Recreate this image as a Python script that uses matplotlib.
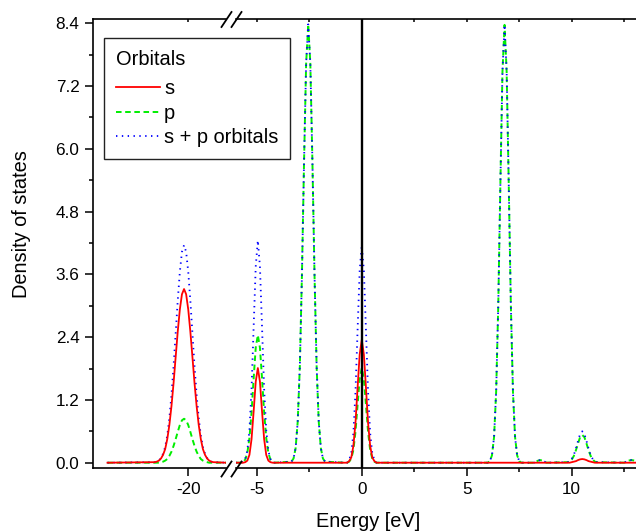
#!/usr/bin/env python3
"""Density of states of s and p orbitals on a broken energy axis."""

import matplotlib.pyplot as plt
from matplotlib.lines import Line2D
from matplotlib.ticker import FixedLocator, FormatStrFormatter, MultipleLocator

plt.rcParams["font.family"] = ["Liberation Sans", "DejaVu Sans"]
plt.rcParams["lines.scale_dashes"] = False
plt.rcParams["axes.unicode_minus"] = False

# low-energy part (left of the axis break)
energy_low = [
    -23.85,
    -21.6, -21.5, -21.4, -21.3, -21.2, -21.1, -21.0, -20.9, -20.8, -20.7,
    -20.6, -20.5, -20.4, -20.3, -20.2, -20.1, -20.0, -19.9, -19.8, -19.7,
    -19.6, -19.5, -19.4, -19.3, -19.2, -19.1, -19.0, -18.9, -18.8,
    -18.2,
]
s_low = [
    0.0,
    0.01, 0.02, 0.04, 0.08, 0.15, 0.26, 0.45, 0.72, 1.08, 1.52,
    2.02, 2.51, 2.93, 3.22, 3.32, 3.22, 2.93, 2.51, 2.02, 1.52,
    1.08, 0.72, 0.45, 0.26, 0.15, 0.08, 0.04, 0.02, 0.01,
    0.0,
]
p_low = [
    0.0,
    0.00, 0.00, 0.00, 0.01, 0.02, 0.04, 0.07, 0.13, 0.21, 0.32,
    0.45, 0.59, 0.72, 0.81, 0.84, 0.81, 0.72, 0.59, 0.45, 0.32,
    0.21, 0.13, 0.07, 0.04, 0.02, 0.01, 0.00, 0.00, 0.00,
    0.0,
]
sp_low = [
    0.0,
    0.01, 0.02, 0.04, 0.09, 0.17, 0.30, 0.52, 0.85, 1.29, 1.84,
    2.47, 3.10, 3.65, 4.03, 4.16, 4.03, 3.65, 3.10, 2.47, 1.84,
    1.29, 0.85, 0.52, 0.30, 0.17, 0.09, 0.04, 0.02, 0.01,
    0.0,
]

# high-energy part (right of the axis break)
energy_high = [
    -6.0,
    -5.75, -5.65, -5.55, -5.45, -5.35, -5.25, -5.15, -5.05, -4.95,
    -4.85, -4.75, -4.65, -4.55, -4.45, -4.35, -4.25, -4.15,
    -3.35, -3.25, -3.15, -3.05, -2.95, -2.85, -2.75, -2.65, -2.55,
    -2.45, -2.35, -2.25, -2.15, -2.05, -1.95, -1.85, -1.75,
    -0.8, -0.7, -0.6, -0.5, -0.4, -0.3, -0.2, -0.1, 0.0,
    0.1, 0.2, 0.3, 0.4, 0.5, 0.6, 0.7, 0.8,
    6.0, 6.1, 6.2, 6.3, 6.4, 6.5, 6.6, 6.7, 6.8,
    6.9, 7.0, 7.1, 7.2, 7.3, 7.4, 7.5, 7.6,
    8.2, 8.4, 8.5, 8.6, 8.8,
    9.8, 9.9, 10.0, 10.1, 10.2, 10.3, 10.4, 10.5,
    10.6, 10.7, 10.8, 10.9, 11.0, 11.1, 11.2,
    12.5, 12.7, 12.85, 13.0, 13.1,
]
s_high = [
    0.0,
    0.00, 0.00, 0.01, 0.04, 0.15, 0.45, 0.98, 1.55, 1.81,
    1.55, 0.98, 0.45, 0.15, 0.04, 0.01, 0.00, 0.00,
    0.00, 0.00, 0.00, 0.00, 0.00, 0.00, 0.00, 0.00, 0.00,
    0.00, 0.00, 0.00, 0.00, 0.00, 0.00, 0.00, 0.00,
    0.00, 0.00, 0.03, 0.10, 0.32, 0.76, 1.43, 2.07, 2.35,
    2.07, 1.43, 0.76, 0.32, 0.10, 0.03, 0.00, 0.00,
    0.00, 0.00, 0.00, 0.00, 0.00, 0.00, 0.00, 0.00, 0.00,
    0.00, 0.00, 0.00, 0.00, 0.00, 0.00, 0.00, 0.00,
    0.00, 0.00, 0.00, 0.00, 0.00,
    0.00, 0.00, 0.01, 0.02, 0.03, 0.05, 0.064, 0.07,
    0.064, 0.05, 0.03, 0.02, 0.01, 0.00, 0.00,
    0.00, 0.00, 0.00, 0.00, 0.00,
]
p_high = [
    0.0,
    0.00, 0.01, 0.06, 0.19, 0.47, 0.96, 1.61, 2.20, 2.44,
    2.20, 1.61, 0.96, 0.47, 0.19, 0.06, 0.01, 0.00,
    0.02, 0.08, 0.28, 0.79, 1.84, 3.58, 5.74, 7.63, 8.38,
    7.63, 5.74, 3.58, 1.84, 0.79, 0.28, 0.08, 0.02,
    0.00, 0.00, 0.02, 0.08, 0.24, 0.59, 1.10, 1.60, 1.81,
    1.60, 1.10, 0.59, 0.24, 0.08, 0.02, 0.00, 0.00,
    0.00, 0.03, 0.14, 0.49, 1.36, 3.01, 5.31, 7.47, 8.37,
    7.47, 5.31, 3.01, 1.36, 0.49, 0.14, 0.03, 0.00,
    0.00, 0.04, 0.05, 0.04, 0.00,
    0.01, 0.02, 0.06, 0.13, 0.24, 0.37, 0.49, 0.53,
    0.49, 0.37, 0.24, 0.13, 0.06, 0.02, 0.01,
    0.00, 0.04, 0.05, 0.04, 0.03,
]
sp_high = [
    0.0,
    0.00, 0.01, 0.07, 0.23, 0.62, 1.41, 2.59, 3.75, 4.25,
    3.75, 2.59, 1.41, 0.62, 0.23, 0.07, 0.01, 0.00,
    0.02, 0.08, 0.28, 0.79, 1.84, 3.58, 5.74, 7.63, 8.38,
    7.63, 5.74, 3.58, 1.84, 0.79, 0.28, 0.08, 0.02,
    0.00, 0.00, 0.05, 0.18, 0.56, 1.35, 2.53, 3.67, 4.16,
    3.67, 2.53, 1.35, 0.56, 0.18, 0.05, 0.00, 0.00,
    0.00, 0.03, 0.14, 0.49, 1.36, 3.01, 5.31, 7.47, 8.37,
    7.47, 5.31, 3.01, 1.36, 0.49, 0.14, 0.03, 0.00,
    0.00, 0.04, 0.05, 0.04, 0.00,
    0.01, 0.02, 0.07, 0.15, 0.27, 0.42, 0.55, 0.60,
    0.55, 0.42, 0.27, 0.15, 0.07, 0.02, 0.01,
    0.00, 0.04, 0.05, 0.04, 0.03,
]

labels = ["s", "p", "s + p orbitals"]
y_ticks = [0.0, 1.2, 2.4, 3.6, 4.8, 6.0, 7.2, 8.4]
x_ticks_low = [-20]
x_ticks_high = [-5, 0, 5, 10]
x_minor_high = [-2.5, 2.5, 7.5, 12.5]

W, H = 636, 531


def fx(px):
    return px / W


def fy(py):
    return (H - py) / H


fig = plt.figure(figsize=(W / 100, H / 100), dpi=100)
bottom, top = fy(468.3), fy(18.6)
ax_lo = fig.add_axes([fx(93), bottom, fx(226) - fx(93), top - bottom])
ax_hi = fig.add_axes([fx(236), bottom, 1.0 - fx(236), top - bottom])

styles = [
    dict(color="#ff0000", linestyle="-", linewidth=1.3, zorder=3),
    dict(color="#00ee00", linestyle=(0, (4.0, 2.6)), linewidth=1.4, zorder=1),
    dict(color="#0000ff", linestyle=(0, (1.0, 3.2)), linewidth=1.3, zorder=2),
]

handles = []
for ax, e, series in [
    (ax_lo, energy_low, [s_low, p_low, sp_low]),
    (ax_hi, energy_high, [s_high, p_high, sp_high]),
]:
    hs = []
    for vals, label, st in zip(series, labels, styles):
        (h,) = ax.plot(e, vals, label=label, **st)
        hs.append(h)
    handles = hs
    ax.set_ylim(-0.107, 8.49)
    ax.tick_params(axis="both", which="major", direction="out", length=5.8,
                   width=1.1, labelsize=12.3, pad=4)
    ax.tick_params(axis="both", which="minor", direction="out", length=3.0,
                   width=1.1)
    for sp in ax.spines.values():
        sp.set_linewidth(1.2)

ax_lo.set_xlim(-24.54, -18.2)
ax_hi.set_xlim(-5.99, 13.06)

ax_lo.xaxis.set_major_locator(FixedLocator(x_ticks_low))
ax_hi.xaxis.set_major_locator(FixedLocator(x_ticks_high))
ax_hi.xaxis.set_minor_locator(FixedLocator(x_minor_high))
ax_lo.xaxis.set_minor_locator(FixedLocator([]))

ax_lo.yaxis.set_major_locator(FixedLocator(y_ticks))
ax_lo.yaxis.set_minor_locator(MultipleLocator(0.6))
ax_lo.yaxis.set_major_formatter(FormatStrFormatter("%.1f"))

ax_lo.spines["right"].set_visible(False)
ax_hi.spines["left"].set_visible(False)
ax_hi.spines["right"].set_visible(False)
ax_hi.tick_params(axis="y", which="both", left=False, labelleft=False)

for ax in (ax_lo, ax_hi):
    ax.tick_params(axis="x", which="both", top=True)
    for t in ax.xaxis.get_major_ticks() + ax.xaxis.get_minor_ticks():
        t.tick2line.set_markersize(2)
        t.tick2line.set_marker(3)  # inward on top

ax_hi.axvline(0.0, color="black", linewidth=1.7, zorder=4)

# break marks
for cx in (226.5, 236.5):
    for cy in (19.5, 469.0):
        fig.add_artist(Line2D([fx(cx - 5), fx(cx + 5)], [fy(cy + 7.5), fy(cy - 7.5)],
                              transform=fig.transFigure, color="black",
                              linewidth=1.3, clip_on=False))

leg = fig.legend(handles, labels, title="Orbitals", loc="upper left",
                 bbox_to_anchor=(fx(104), fy(38.3)), bbox_transform=fig.transFigure,
                 fontsize=14.4, title_fontsize=14.4, alignment="left",
                 frameon=True, fancybox=False, framealpha=1.0, edgecolor="#222222",
                 borderaxespad=0.0, handlelength=2.2, handletextpad=0.2,
                 labelspacing=0.27, borderpad=0.6)
leg.get_frame().set_linewidth(1.0)
leg._legend_box.sep = 7.2  # extra gap below the title

fig.text(fx(368), fy(526.7), "Energy [eV]", ha="center", va="baseline", fontsize=14.4)
fig.text(fx(22), fy(224), "Density of states", ha="center", va="center",
         rotation=90, fontsize=14.4)

fig.savefig("out.png", dpi=100)
